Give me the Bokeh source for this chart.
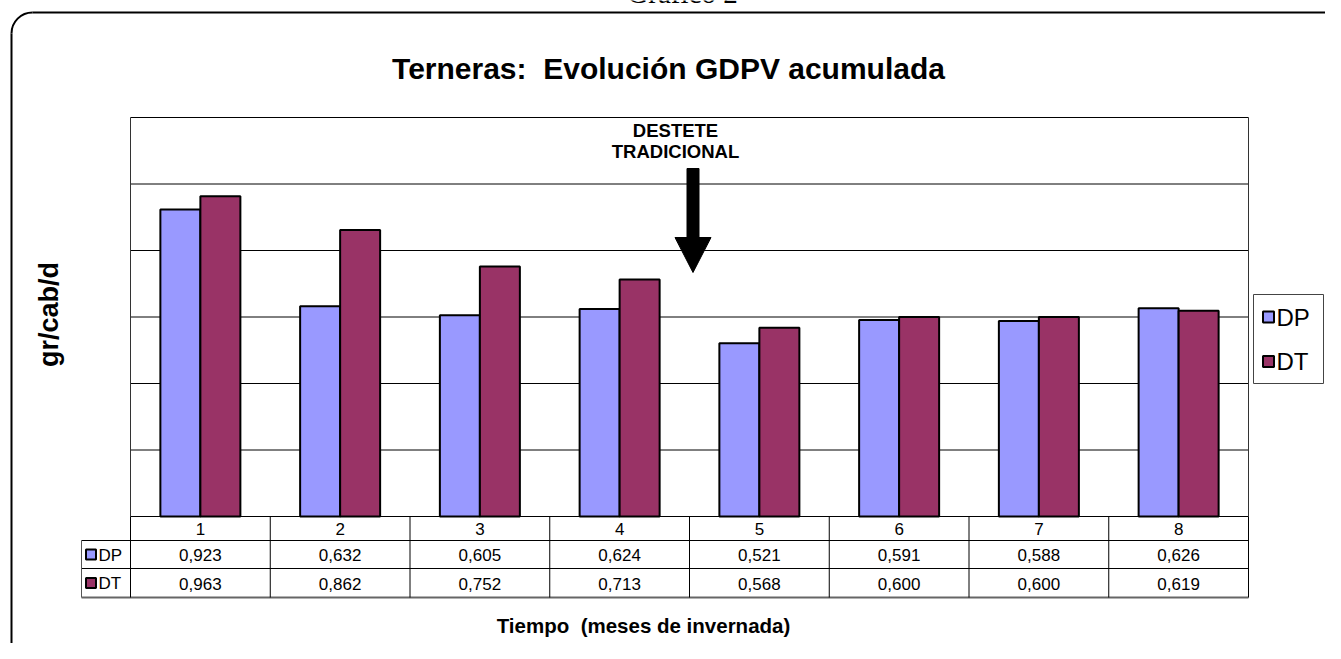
from bokeh.plotting import figure
from bokeh.models import Label, ColumnDataSource
from bokeh.core.properties import value
from bokeh.transform import dodge
from bokeh.embed import file_html
from bokeh.resources import INLINE
import math

# ---------------- data ----------------
categories = ["1", "2", "3", "4", "5", "6", "7", "8"]
dp_values = [0.923, 0.632, 0.605, 0.624, 0.521, 0.591, 0.588, 0.626]
dt_values = [0.963, 0.862, 0.752, 0.713, 0.568, 0.600, 0.600, 0.619]
series_names = ["DP", "DT"]
series_colors = ["#9999FF", "#993366"]
y_gridlines = [0.0, 0.2, 0.4, 0.6, 0.8, 1.0, 1.2]

title_text = "Terneras:  Evolución GDPV acumulada"
x_title = "Tiempo  (meses de invernada)"
y_title = "gr/cab/d"
note_lines = ["DESTETE", "TRADICIONAL"]
caption = "Gráfico 2"

# ---------------- layout (reference pixel geometry) ----------------
W, H = 1325, 643
PL, PR, PT, PB = 130, 1248, 117, 516     # plot area in pixels
n = len(categories)
ymax = 1.2
xs = (PR - PL) / n
ys = (PB - PT) / ymax


def X(px):
    return 0.5 + (px - PL) / xs


def Y(py):
    return (PB - py) / ys


def keep_spaces(s):
    return s.replace("  ", " \u00a0")


FONT = "Liberation Sans"
BLACK = "black"

p = figure(width=W, height=H,
           x_range=(X(0), X(W)), y_range=(Y(H), Y(0)),
           x_axis_type=None, y_axis_type=None,
           toolbar_location=None, output_backend="svg",
           min_border=0, outline_line_color=None,
           background_fill_color="white", border_fill_color="white")

# outer rounded frame (only partly inside the picture)
R = 21
p.segment(x0=[X(11), X(11 + R)], x1=[X(11), X(1351 - R)],
          y0=[Y(12 + R), Y(12)], y1=[Y(664 - R), Y(12)],
          line_color=BLACK, line_width=2)
p.arc(x=[X(11 + R)], y=[Y(12 + R)], radius=R, radius_units="screen",
      start_angle=math.pi / 2, end_angle=math.pi, line_color=BLACK, line_width=2)

# caption above the frame (cut off at the top, as in the source page)
p.add_layout(Label(x=X(682), y=Y(-8), text=caption, text_align="center",
                   text_baseline="alphabetic", text_font="Liberation Serif",
                   text_font_size="29px", text_color=BLACK))

# grid lines of plot area
x_lo, x_hi = 0.5, n + 0.5
p.segment(x0=[x_lo] * len(y_gridlines), x1=[x_hi] * len(y_gridlines),
          y0=y_gridlines, y1=y_gridlines, line_color=BLACK, line_width=1)
p.segment(x0=[x_lo, x_hi], x1=[x_lo, x_hi], y0=[0, 0], y1=[ymax, ymax],
          line_color="#333333", line_width=1)

# bars
cat_x = list(range(1, n + 1))
bar_w = 40 / xs
src = ColumnDataSource(dict(x=cat_x, dp=dp_values, dt=dt_values,
                            cat=categories,
                            dp_txt=[f"{v:.3f}".replace(".", ",") for v in dp_values],
                            dt_txt=[f"{v:.3f}".replace(".", ",") for v in dt_values]))
p.vbar(x=dodge("x", -bar_w / 2, range=p.x_range), top="dp", bottom=0, width=bar_w,
       source=src, fill_color=series_colors[0], line_color=BLACK, line_width=2)
p.vbar(x=dodge("x", bar_w / 2, range=p.x_range), top="dt", bottom=0, width=bar_w,
       source=src, fill_color=series_colors[1], line_color=BLACK, line_width=2)

# data table below the plot
p.segment(x0=[X(81), X(81)], x1=[x_hi, x_hi], y0=[Y(540), Y(568)], y1=[Y(540), Y(568)],
          line_color=BLACK, line_width=1)
p.segment(x0=[X(81)], x1=[x_hi], y0=[Y(597)], y1=[Y(597)],
          line_color="#666666", line_width=2)
p.segment(x0=[X(81)], x1=[X(81)], y0=[Y(540)], y1=[Y(597)],
          line_color="#555555", line_width=1)
vx = [k + 0.5 for k in range(0, n + 1)]
p.segment(x0=vx, x1=vx, y0=[0] * len(vx), y1=[Y(597)] * len(vx),
          line_color=BLACK, line_width=1)

tfs = "17px"
p.text(x="x", y=Y(528.5), text="cat", source=src, text_align="center",
       text_baseline="middle", text_font=value(FONT), text_font_size=tfs, text_color=BLACK)
p.text(x="x", y=Y(554.5), text="dp_txt", source=src, text_align="center",
       text_baseline="middle", text_font=value(FONT), text_font_size=tfs, text_color=BLACK)
p.text(x="x", y=Y(583), text="dt_txt", source=src, text_align="center",
       text_baseline="middle", text_font=value(FONT), text_font_size=tfs, text_color=BLACK)

# table keys
p.scatter(x=[X(90.5)] * 2, y=[Y(554), Y(582.5)], marker="square", size=10,
          fill_color=series_colors, line_color=BLACK, line_width=2)
p.text(x=[X(98)] * 2, y=[Y(554.5), Y(583)], text=series_names, text_align="left",
       text_baseline="middle", text_font=value(FONT), text_font_size=tfs, text_color=BLACK)

# legend
p.quad(left=[X(1253)], right=[X(1323)], top=[Y(294)], bottom=[Y(383)],
       fill_color="white", line_color="#444444", line_width=1)
p.scatter(x=[X(1268)] * 2, y=[Y(316.5), Y(361)], marker="square", size=11,
          fill_color=series_colors, line_color=BLACK, line_width=2)
p.text(x=[X(1276)] * 2, y=[Y(316.5), Y(361)], text=series_names, text_align="left",
       text_baseline="middle", text_font=value(FONT), text_font_size="24px", text_color=BLACK)

# annotation arrow
p.patch(x=[X(686.5), X(698.5), X(698.5), X(710.5), X(692.5), X(674.5), X(686.5)],
        y=[Y(168), Y(168), Y(237), Y(237), Y(272), Y(237), Y(237)],
        fill_color=BLACK, line_color=BLACK)
for txt, yy in zip(note_lines, [130, 151]):
    p.add_layout(Label(x=X(675), y=Y(yy), text=txt, text_align="center",
                       text_baseline="middle", text_font=FONT, text_font_size="18.5px",
                       text_font_style="bold", text_color=BLACK))

# titles
p.add_layout(Label(x=X(668), y=Y(68), text=keep_spaces(title_text), text_align="center",
                   text_baseline="middle", text_font=FONT, text_font_size="30px",
                   text_font_style="bold", text_color=BLACK))
p.add_layout(Label(x=X(643), y=Y(625), text=keep_spaces(x_title), text_align="center",
                   text_baseline="middle", text_font=FONT, text_font_size="20.5px",
                   text_font_style="bold", text_color=BLACK))
p.add_layout(Label(x=X(48), y=Y(314), text=y_title, text_align="center",
                   text_baseline="middle", angle=math.pi / 2, text_font=FONT,
                   text_font_size="27px", text_font_style="bold", text_color=BLACK))

open("out.html", "w").write(file_html(p, INLINE))
